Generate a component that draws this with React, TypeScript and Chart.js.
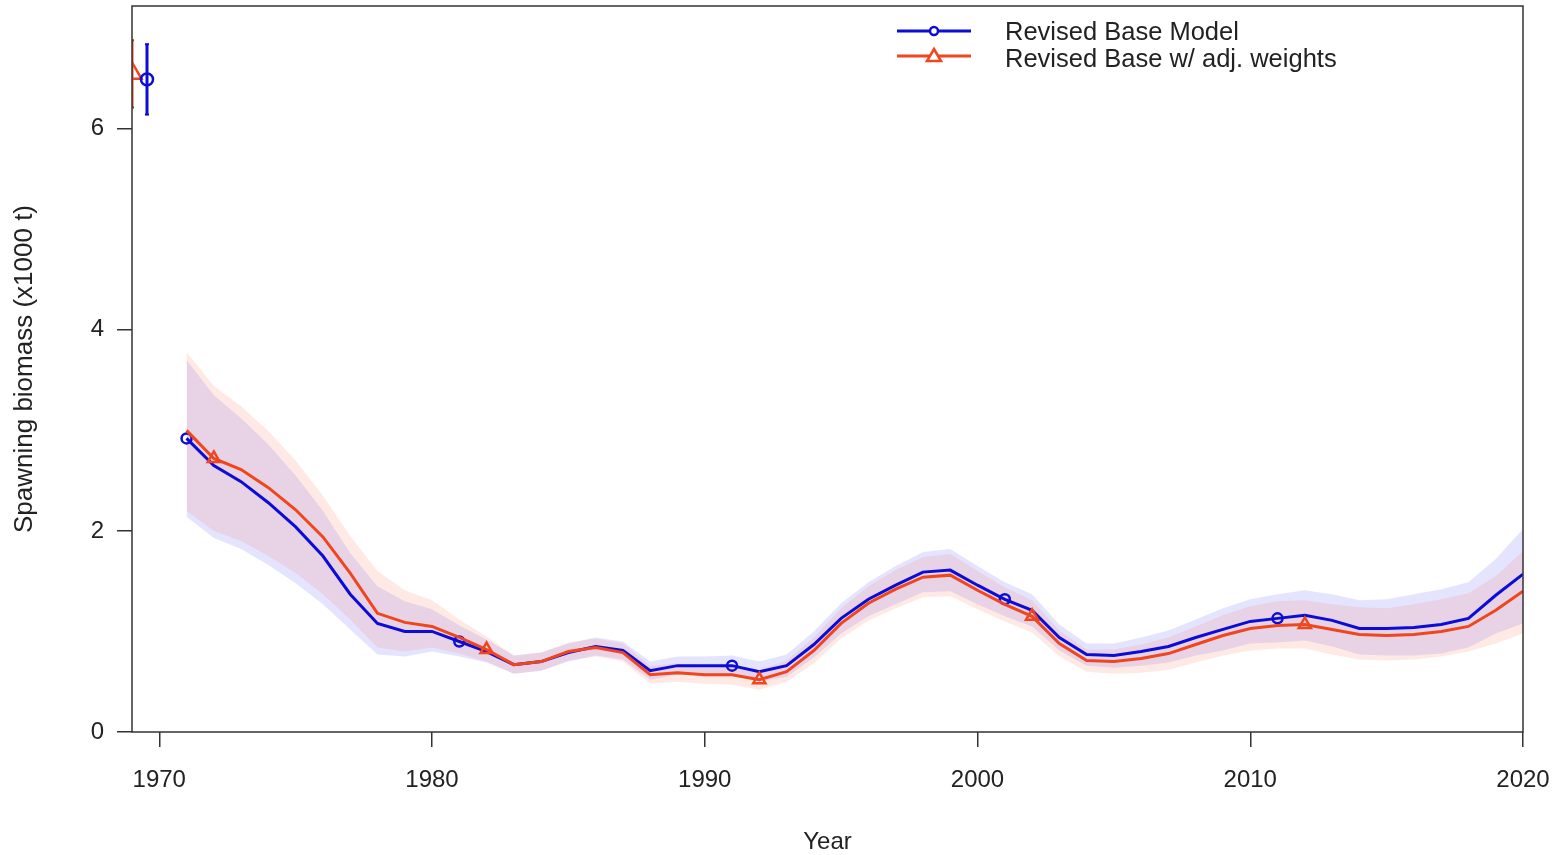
import React, { useEffect, useRef } from 'react';
import { Chart, registerables } from 'chart.js';

Chart.register(...registerables);

// ---------------- data ----------------
const seriesNames = ['Revised Base Model', 'Revised Base w/ adj. weights'];

const years = [
  1971, 1972, 1973, 1974, 1975, 1976, 1977, 1978, 1979, 1980,
  1981, 1982, 1983, 1984, 1985, 1986, 1987, 1988, 1989, 1990,
  1991, 1992, 1993, 1994, 1995, 1996, 1997, 1998, 1999, 2000,
  2001, 2002, 2003, 2004, 2005, 2006, 2007, 2008, 2009, 2010,
  2011, 2012, 2013, 2014, 2015, 2016, 2017, 2018, 2019, 2020,
];

// Revised Base Model: spawning biomass and 95% interval
const baseSB = [
  2.92, 2.65, 2.49, 2.28, 2.04, 1.75, 1.37, 1.08, 1.00, 1.00,
  0.90, 0.80, 0.67, 0.70, 0.79, 0.85, 0.81, 0.61, 0.66, 0.66,
  0.66, 0.60, 0.66, 0.87, 1.13, 1.32, 1.46, 1.59, 1.61, 1.46,
  1.32, 1.21, 0.94, 0.77, 0.76, 0.80, 0.85, 0.94, 1.02, 1.10,
  1.13, 1.16, 1.11, 1.03, 1.03, 1.04, 1.07, 1.13, 1.36, 1.57,
];
const baseHi = [
  3.70, 3.35, 3.12, 2.86, 2.55, 2.20, 1.78, 1.45, 1.30, 1.22,
  1.06, 0.92, 0.76, 0.79, 0.88, 0.94, 0.90, 0.70, 0.75, 0.75,
  0.76, 0.70, 0.77, 1.00, 1.28, 1.49, 1.65, 1.79, 1.82, 1.65,
  1.49, 1.37, 1.07, 0.88, 0.88, 0.94, 1.01, 1.12, 1.23, 1.32,
  1.37, 1.41, 1.37, 1.31, 1.32, 1.37, 1.42, 1.49, 1.72, 2.02,
];
const baseLo = [
  2.14, 1.93, 1.82, 1.66, 1.48, 1.27, 1.02, 0.77, 0.75, 0.80,
  0.75, 0.69, 0.58, 0.61, 0.70, 0.76, 0.72, 0.52, 0.57, 0.57,
  0.56, 0.50, 0.55, 0.74, 0.98, 1.15, 1.27, 1.39, 1.40, 1.27,
  1.15, 1.05, 0.81, 0.66, 0.64, 0.66, 0.69, 0.76, 0.81, 0.88,
  0.89, 0.91, 0.85, 0.77, 0.76, 0.76, 0.78, 0.84, 0.98, 1.08,
];

// Revised Base w/ adj. weights
const adjSB = [
  3.00, 2.72, 2.61, 2.43, 2.21, 1.94, 1.58, 1.18, 1.09, 1.05,
  0.94, 0.82, 0.67, 0.70, 0.80, 0.84, 0.79, 0.57, 0.59, 0.57,
  0.57, 0.52, 0.60, 0.81, 1.08, 1.28, 1.42, 1.54, 1.56, 1.41,
  1.27, 1.15, 0.88, 0.71, 0.70, 0.73, 0.78, 0.87, 0.96, 1.03,
  1.06, 1.07, 1.02, 0.97, 0.96, 0.97, 1.00, 1.05, 1.21, 1.40,
];
const adjHi = [
  3.78, 3.44, 3.24, 2.99, 2.70, 2.35, 1.95, 1.60, 1.41, 1.31,
  1.12, 0.95, 0.76, 0.79, 0.89, 0.93, 0.88, 0.66, 0.68, 0.66,
  0.67, 0.62, 0.71, 0.94, 1.23, 1.45, 1.61, 1.74, 1.77, 1.60,
  1.44, 1.31, 1.01, 0.82, 0.82, 0.87, 0.94, 1.05, 1.16, 1.25,
  1.30, 1.31, 1.27, 1.24, 1.23, 1.27, 1.32, 1.38, 1.55, 1.80,
];
const adjLo = [
  2.20, 2.00, 1.90, 1.75, 1.58, 1.37, 1.12, 0.84, 0.80, 0.84,
  0.78, 0.70, 0.58, 0.61, 0.71, 0.75, 0.70, 0.48, 0.50, 0.48,
  0.47, 0.42, 0.50, 0.68, 0.93, 1.11, 1.23, 1.34, 1.35, 1.22,
  1.10, 0.99, 0.75, 0.60, 0.58, 0.59, 0.62, 0.69, 0.76, 0.81,
  0.83, 0.83, 0.77, 0.72, 0.71, 0.72, 0.75, 0.80, 0.88, 0.98,
];

// Virgin (unfished) spawning biomass with interval
const baseVirginYear = 1969.55;
const baseVirgin = [6.49];
const baseVirginCI = [6.14, 6.84];
const adjVirginYear = 1969.0;
const adjVirgin = [6.55];
const adjVirginCI = [6.21, 6.88];

const baseMarkerYears = [1971, 1981, 1991, 2001, 2011];
const adjMarkerYears = [1972, 1982, 1992, 2002, 2012];

const xTicks = [1970, 1980, 1990, 2000, 2010, 2020];
const yTicks = [0, 2, 4, 6];

// ---------------- styles ----------------
const BLUE = 'rgb(12,12,215)';
const RED = 'rgb(240,70,30)';
const BLUE_BAND = 'rgba(0,0,255,0.105)';
const RED_BAND = 'rgba(255,60,30,0.115)';
const TEXT = '#222';
const FONT = '"Liberation Sans", Arial, sans-serif';

export default function App() {
  const ref = useRef<HTMLCanvasElement>(null);

  useEffect(() => {
    document.body.style.margin = '0';
    if (!ref.current) return;
    const pts = (ys: number[]) => years.map((x, i) => ({ x, y: ys[i] }));

    const framePlugin = {
      id: 'frame',
      afterDraw(chart: any) {
        const { ctx, chartArea: a } = chart;
        ctx.save();
        ctx.strokeStyle = '#333';
        ctx.lineWidth = 1.5;
        ctx.strokeRect(a.left, a.top, a.right - a.left, a.bottom - a.top);
        ctx.restore();
      },
    };

    const legendPlugin = {
      id: 'customLegend',
      afterDraw(chart: any) {
        const { ctx } = chart;
        ctx.save();
        const x0 = 897, x1 = 971, xm = 934;
        const rows = [
          { y: 31, ty: 33, color: BLUE, marker: 'circle', label: seriesNames[0] },
          { y: 56, ty: 60, color: RED, marker: 'triangle', label: seriesNames[1] },
        ];
        for (const r of rows) {
          ctx.strokeStyle = r.color;
          ctx.lineWidth = 3;
          ctx.beginPath();
          ctx.moveTo(x0, r.y);
          ctx.lineTo(x1, r.y);
          ctx.stroke();
          ctx.fillStyle = '#fff';
          ctx.lineWidth = 2.5;
          ctx.beginPath();
          if (r.marker === 'circle') {
            ctx.arc(xm, r.y, 4, 0, Math.PI * 2);
          } else {
            ctx.moveTo(xm, r.y - 7);
            ctx.lineTo(xm + 7, r.y + 5);
            ctx.lineTo(xm - 7, r.y + 5);
            ctx.closePath();
          }
          ctx.fill();
          ctx.stroke();
          ctx.fillStyle = TEXT;
          ctx.font = `25.5px ${FONT}`;
          ctx.textBaseline = 'middle';
          ctx.textAlign = 'left';
          ctx.fillText(r.label, 1005, r.ty);
        }
        ctx.restore();
      },
    };

    const band = (data: any[], order: number, fill: any, color: string) => ({
      data,
      borderWidth: 0,
      borderColor: 'rgba(0,0,0,0)',
      backgroundColor: color,
      pointRadius: 0,
      fill,
      order,
    });

    const chart = new Chart(ref.current, {
      type: 'line',
      data: {
        datasets: [
          band(pts(baseHi), 10, false, BLUE_BAND), // 0
          band(pts(baseLo), 10, 0, BLUE_BAND), // 1
          band(pts(adjHi), 9, false, RED_BAND), // 2
          band(pts(adjLo), 9, 2, RED_BAND), // 3
          {
            label: seriesNames[0],
            data: pts(baseSB),
            borderColor: BLUE,
            borderWidth: 3,
            fill: false,
            pointStyle: 'circle',
            pointRadius: (c: any) => (baseMarkerYears.includes(years[c.dataIndex]) ? 5 : 0),
            pointBorderWidth: 2.5,
            pointBorderColor: BLUE,
            pointBackgroundColor: 'rgba(0,0,0,0)',
            order: 3,
          },
          {
            label: seriesNames[1],
            data: pts(adjSB),
            borderColor: RED,
            borderWidth: 3,
            fill: false,
            pointStyle: 'triangle',
            pointRadius: (c: any) => (adjMarkerYears.includes(years[c.dataIndex]) ? 7 : 0),
            pointBorderWidth: 2.5,
            pointBorderColor: RED,
            pointBackgroundColor: 'rgba(0,0,0,0)',
            order: 2,
          },
          {
            data: baseVirginCI.map((y) => ({ x: baseVirginYear, y })),
            borderColor: BLUE,
            borderWidth: 3,
            fill: false,
            pointStyle: 'line',
            pointRadius: 2,
            pointBorderWidth: 2,
            pointBorderColor: BLUE,
            clip: 0,
            order: 1,
          },
          {
            data: adjVirginCI.map((y) => ({ x: adjVirginYear, y })),
            borderColor: RED,
            borderWidth: 3,
            fill: false,
            pointStyle: 'line',
            pointRadius: 2,
            pointBorderWidth: 2,
            pointBorderColor: '#553',
            clip: 0,
            order: 1,
          },
          {
            data: baseVirgin.map((y) => ({ x: baseVirginYear, y })),
            showLine: false,
            pointStyle: 'circle',
            pointRadius: 6,
            pointBorderWidth: 2.5,
            pointBorderColor: BLUE,
            pointBackgroundColor: 'rgba(0,0,0,0)',
            clip: 0,
            order: 0,
          },
          {
            data: adjVirgin.map((y) => ({ x: adjVirginYear, y })),
            showLine: false,
            pointStyle: 'triangle',
            pointRadius: 11,
            pointBorderWidth: 2.5,
            pointBorderColor: RED,
            pointBackgroundColor: 'rgba(0,0,0,0)',
            clip: 0,
            order: 0,
          },
        ],
      },
      options: {
        animation: false,
        responsive: true,
        maintainAspectRatio: false,
        layout: { autoPadding: false, padding: { top: 6, right: 37, left: 0, bottom: 0 } },
        plugins: {
          legend: { display: false },
          tooltip: { enabled: false },
        },
        elements: { line: { tension: 0 } },
        scales: {
          x: {
            type: 'linear',
            min: 1969,
            max: 2020,
            afterBuildTicks: (s: any) => {
              s.ticks = xTicks.map((v) => ({ value: v }));
            },
            afterFit: (s: any) => {
              s.height = 123;
              s.paddingLeft = 0;
              s.paddingRight = 0;
            },
            border: { display: false },
            grid: {
              display: true,
              drawOnChartArea: false,
              drawTicks: true,
              tickLength: 15,
              color: '#333',
              lineWidth: 1.5,
            },
            ticks: {
              autoSkip: false,
              maxRotation: 0,
              padding: 19,
              color: TEXT,
              font: { family: FONT, size: 24 },
              callback: (v: any) => String(v),
            },
            title: {
              display: true,
              text: 'Year',
              color: TEXT,
              font: { family: FONT, size: 24, lineHeight: 1 },
              padding: { top: 0, bottom: 1 },
            },
          },
          y: {
            type: 'linear',
            min: 0,
            max: 7.22,
            afterBuildTicks: (s: any) => {
              s.ticks = yTicks.map((v) => ({ value: v }));
            },
            afterFit: (s: any) => {
              s.width = 132;
              s.paddingTop = 0;
              s.paddingBottom = 0;
            },
            border: { display: false },
            grid: {
              display: true,
              drawOnChartArea: false,
              drawTicks: true,
              tickLength: 15,
              color: '#333',
              lineWidth: 1.5,
            },
            ticks: {
              padding: 13,
              color: TEXT,
              font: { family: FONT, size: 24, lineHeight: 0.4 },
              callback: (v: any) => String(v),
            },
            title: {
              display: true,
              text: 'Spawning biomass (x1000 t)',
              color: TEXT,
              font: { family: FONT, size: 26, lineHeight: 1 },
              padding: { top: 12, bottom: 0 },
            },
          },
        },
      } as any,
      plugins: [framePlugin, legendPlugin],
    });

    return () => chart.destroy();
  }, []);

  return (
    <div style={{ position: 'fixed', left: 0, top: 0, width: 1560, height: 855 }}>
      <canvas ref={ref} />
    </div>
  );
}
